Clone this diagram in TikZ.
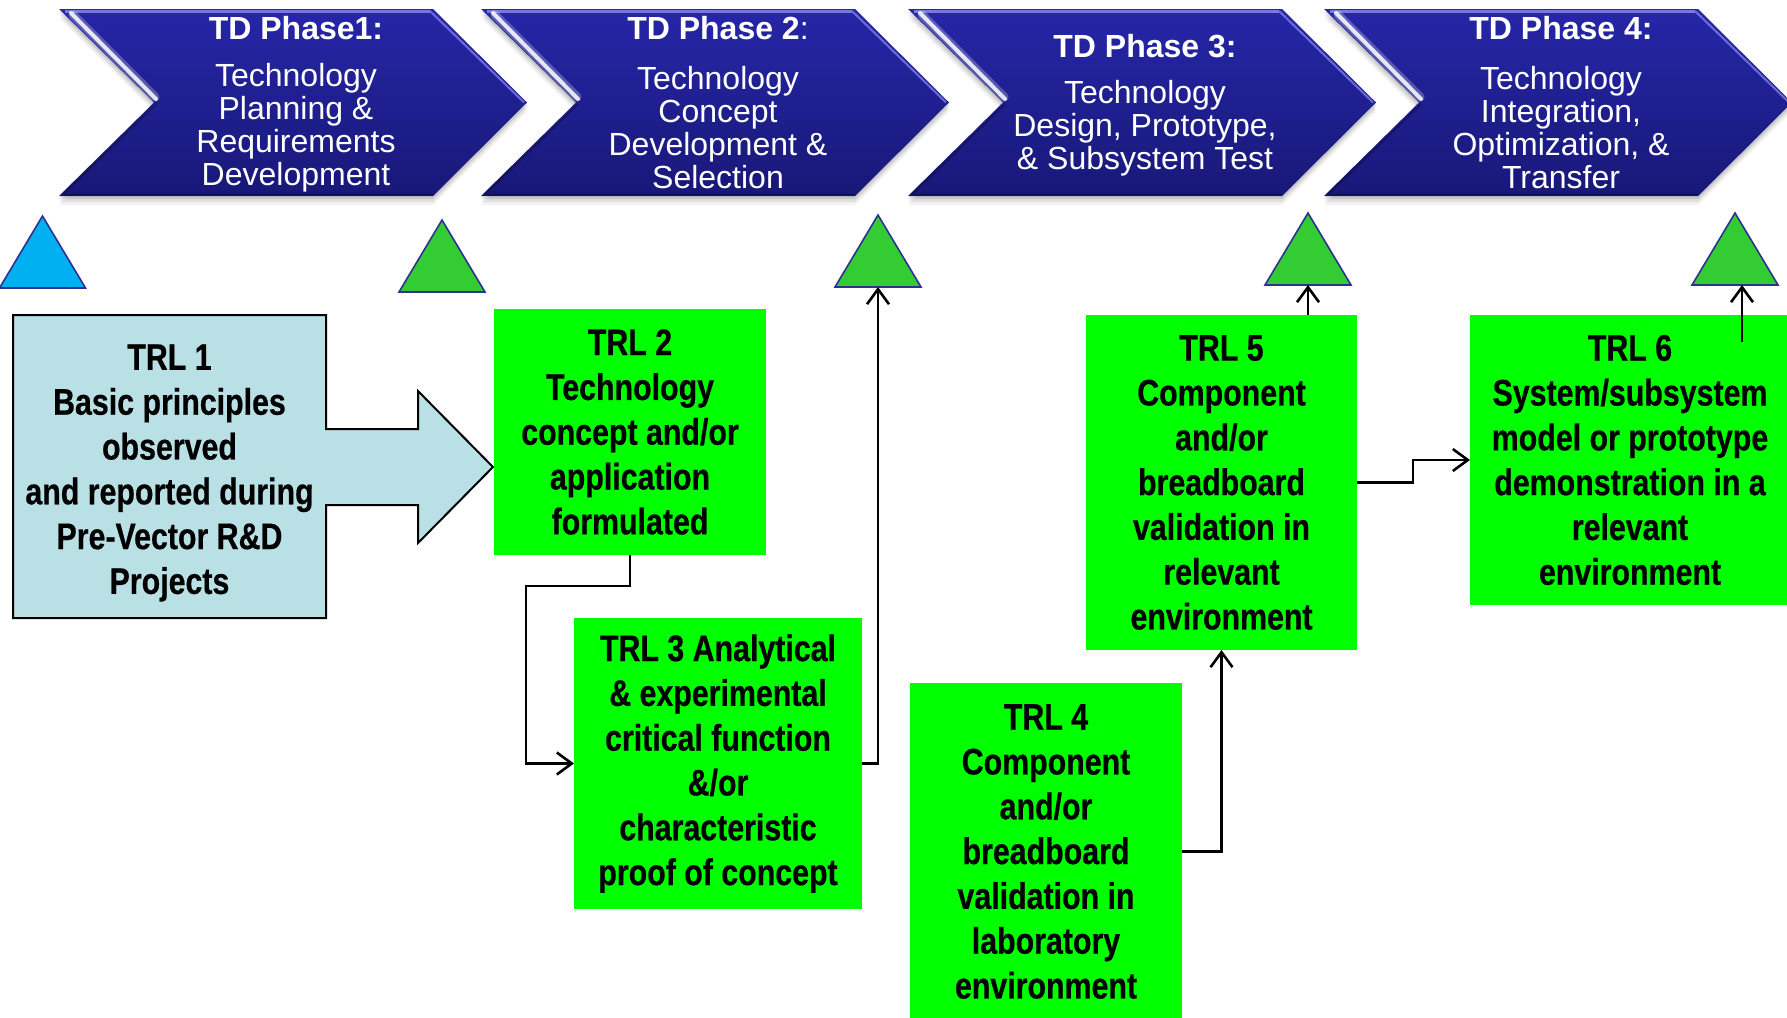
\documentclass[tikz,border=0pt]{standalone}
\usepackage{fontspec}
\setmainfont{Liberation Sans}
\newfontfamily\narrowfont[FakeStretch=0.82, BoldFeatures={FakeBold=0.5}]{Liberation Sans}
\usetikzlibrary{arrows.meta,calc}

\definecolor{chevtop}{RGB}{38,38,168}
\definecolor{chevbot}{RGB}{24,24,120}
\definecolor{chevedge}{RGB}{140,140,240}
\definecolor{trlgreen}{RGB}{0,255,0}
\definecolor{trlblue}{RGB}{185,224,228}
\definecolor{trigreen}{RGB}{51,204,51}
\definecolor{triblue}{RGB}{0,176,240}
\definecolor{tririm}{RGB}{46,49,146}

\tikzset{
  trlfont/.style={font=\narrowfont\bfseries\fontsize{37}{44.8}\selectfont},
  trlbox/.style={rectangle, fill=trlgreen, inner sep=0pt, outer sep=0pt, align=center, trlfont},
  trltext/.style={inner sep=0pt, align=center, trlfont},
  conn/.style={draw=black, line width=2.6pt, -{Straight Barb[length=15pt, width=22pt]}},
  milestonetri/.style={draw=tririm, line width=1.6pt, line join=miter},
  chevtitle/.style={text=white, inner sep=0pt, font=\bfseries\fontsize{32}{34}\selectfont},
  chevbody/.style={text=white, inner sep=0pt, align=center, font=\fontsize{32}{33}\selectfont},
}

% one glossy phase chevron; #1 = left x of its top edge
\newcommand\phasechevron[1]{%
  \foreach \d/\o in {3/0.10,6/0.08,9/0.05}{
    \fill[black, opacity=\o] (#1,9+\d) -- ++(374,0) -- ++(94,93.5) -- ++(-94,93.5)
      -- ++(-374,0) -- ++(95,-93.5) -- cycle;
  }
  \path[top color=chevtop, bottom color=chevbot] (#1,9) -- ++(374,0) -- ++(94,93.5)
    -- ++(-94,93.5) -- ++(-374,0) -- ++(95,-93.5) -- cycle;
  % bevel highlights
  \draw[chevedge, line width=2.5pt, opacity=0.8] (#1+6,11.5) -- (#1+371,11.5);
  \draw[chevedge, line width=2pt, opacity=0.7] (#1+371,11) -- (#1+465,102.5);
  \draw[white, line width=9pt, opacity=0.25, line cap=round] (#1+14,15) -- (#1+96,97);
  \draw[white, line width=4pt, opacity=0.85, line cap=round] (#1+12,13) -- (#1+97,99);
  \draw[black, line width=2pt, opacity=0.25] (#1+97,104) -- (#1+4,194.5) -- (#1+374,194.5);
}

% milestone triangle; #1 name, #2 centre x, #3 base y, #4 fill
\newcommand\milestone[4]{%
  \draw[milestonetri, fill=#4] (#2-43,#3) -- (#2,#3-72) -- (#2+43,#3) -- cycle;
  \coordinate (#1) at (#2,#3);
}

\begin{document}
\begin{tikzpicture}[x=1pt, y=-1pt]
\useasboundingbox (0,0) rectangle (1787,1017);
\fill[white] (0,0) rectangle (1787,1017);

% phase chevrons
\phasechevron{59}
\phasechevron{481}
\phasechevron{908}
\phasechevron{1324}

\node[chevtitle] (p1title) at (296,28.5) {TD Phase1:};
\node[chevbody]  (p1body)  at (296,128) {Technology\\Planning \&\\Requirements\\Development};
\node[chevtitle] (p2title) at (718,28.5) {TD Phase 2{\mdseries :}};
\node[chevbody]  (p2body)  at (718,128) {Technology\\Concept\\Development \&\\Selection};
\node[chevtitle] (p3title) at (1145,46) {TD Phase 3:};
\node[chevbody]  (p3body)  at (1145,128) {Technology\\Design, Prototype,\\\& Subsystem Test};
\node[chevtitle] (p4title) at (1561,28.5) {TD Phase 4:};
\node[chevbody]  (p4body)  at (1561,128) {Technology\\Integration,\\Optimization, \&\\Transfer};

% milestones
\milestone{t0}{42.5}{288}{triblue}
\milestone{t1}{442}{292}{trigreen}
\milestone{t2}{878}{287}{trigreen}
\milestone{t3}{1308}{285}{trigreen}
\milestone{t4}{1735}{285}{trigreen}

% TRL 1 block with its arrow
\draw[fill=trlblue, line width=2pt] (13,315) -- (326,315) -- (326,429) -- (418,429) -- (418,391)
  -- (493,467) -- (418,543) -- (418,505) -- (326,505) -- (326,618) -- (13,618) -- cycle;
\node[trltext] (trl1) at (169.5,473)
  {TRL 1\\Basic principles\\observed\\and reported during\\Pre-Vector R\&D\\Projects};

% TRL boxes
\node[trlbox, minimum width=272pt, minimum height=246pt] (trl2) at (630,432)
  {TRL 2\\Technology\\concept and/or\\application\\formulated};
\node[trlbox, minimum width=288pt, minimum height=291pt] (trl3) at (718,763.5)
  {TRL 3 Analytical\\\& experimental\\critical function\\\&/or\\characteristic\\proof of concept};
\node[trlbox, minimum width=272pt, minimum height=337pt] (trl4) at (1046,851.5)
  {TRL 4\\Component\\and/or\\breadboard\\validation in\\laboratory\\environment};
\node[trlbox, minimum width=271pt, minimum height=335pt] (trl5) at (1221.5,482.5)
  {TRL 5\\Component\\and/or\\breadboard\\validation in\\relevant\\environment};
\node[trlbox, minimum width=320pt, minimum height=290pt] (trl6) at (1630,460)
  {TRL 6\\System/subsystem\\model or prototype\\demonstration in a\\relevant\\environment};

% connectors
\draw[conn] (trl2.south) -- ++(0,31) -| ([xshift=-48pt]trl3.west) -- (trl3.west);
\draw[conn] (trl3.east) -| (t2);
\draw[conn] (trl4.east) -| (trl5.south);
\draw[conn] (t3 |- trl5.north) -- (t3);
\draw[conn] (trl5.east) -- ++(56,0) |- (trl6.west);
\coordinate (t4foot) at (1742,342);
\draw[conn] (t4foot) -- (t4foot |- t4);
\end{tikzpicture}
\end{document}
